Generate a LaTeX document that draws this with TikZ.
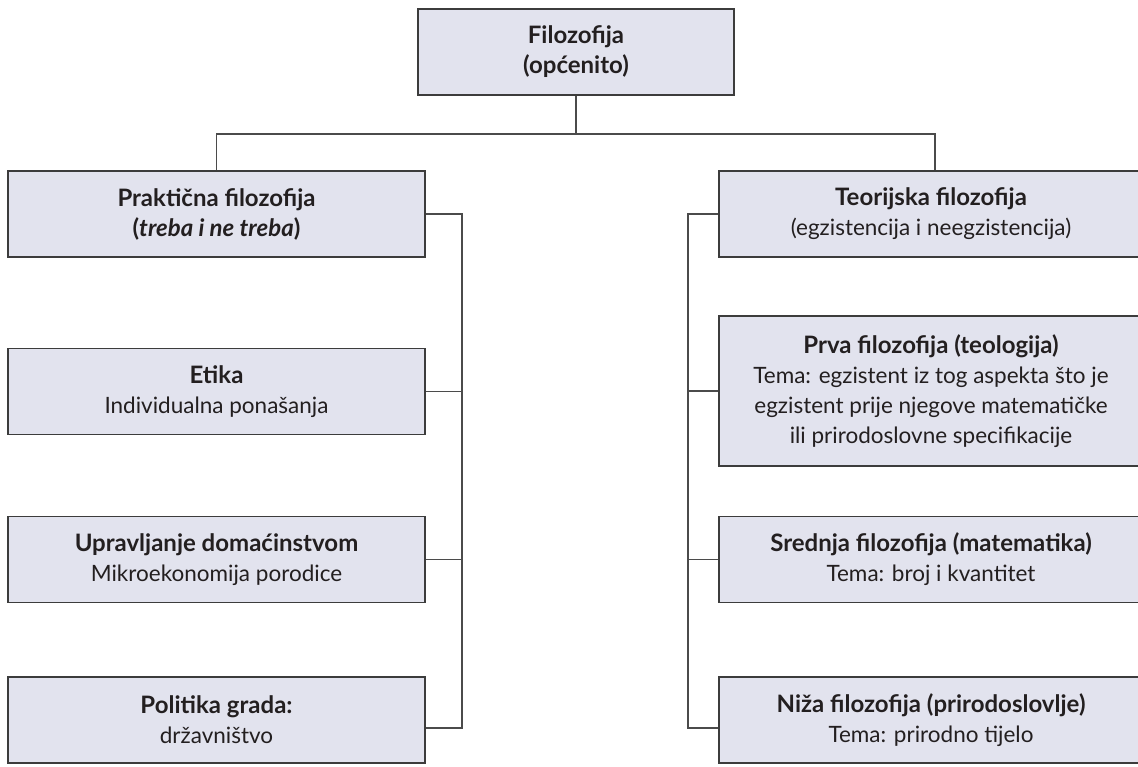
\documentclass[tikz,border=0pt]{standalone}
\usepackage{fontspec}
\setmainfont{Lato}
\definecolor{boxfill}{RGB}{226,227,238}
\definecolor{boxline}{RGB}{60,60,60}
\definecolor{linkline}{RGB}{75,75,75}
\definecolor{txt}{RGB}{35,31,32}
\newcommand{\hd}[1]{{\fontsize{24}{30}\selectfont\bfseries #1}}
\tikzset{
  catbox/.style={draw=boxline, line width=1.4pt, fill=boxfill, text=txt,
    minimum height=86pt, inner sep=0pt, align=center,
    font=\fontsize{22.5}{30}\selectfont},
  leftbox/.style={catbox, minimum width=417pt},
  rightbox/.style={catbox, minimum width=424pt},
  topbox/.style={catbox, minimum width=316pt},
  link/.style={draw=linkline, line width=1.3pt}
}
\begin{document}
\begin{tikzpicture}[x=1pt,y=-1pt]
\useasboundingbox (0,0) rectangle (1138,766);
\clip (0,0) rectangle (1138,766);
% top
\node[topbox] (top) at (576,52) {\hd{Filozofija}\\\hd{(općenito)}};
% left column
\node[leftbox] (prak) at (216.5,214) {\hd{Praktična filozofija}\\\hd{(\textit{treba i ne treba})}};
\node[leftbox] (etika) at (216.5,391.5) {\hd{Etika}\\Individualna ponašanja};
\node[leftbox] (uprav) at (216.5,559.5) {\hd{Upravljanje domaćinstvom}\\Mikroekonomija porodice};
\node[leftbox] (polit) at (216.5,720) {\hd{Politika grada:}\\državništvo};
% right column (boxes run past the right edge)
\node[rightbox] (teor) at (931,214) {\hd{Teorijska filozofija}\\(egzistencija i neegzistencija)};
\node[rightbox, minimum height=150pt] (prva) at (931,391) {\hd{Prva filozofija (teologija)}\\Tema: egzistent iz tog aspekta što je\\egzistent prije njegove matematičke\\ili prirodoslovne specifikacije};
\node[rightbox] (sred) at (931,559.5) {\hd{Srednja filozofija (matematika)}\\Tema: broj i kvantitet};
\node[rightbox] (niza) at (931,720) {\hd{Niža filozofija (prirodoslovlje)}\\Tema: prirodno tijelo};
% buses
\coordinate (split) at (576,134);
\coordinate (lbus) at (462,0);
\coordinate (rbus) at (688,0);
\coordinate (teortop) at ([xshift=4pt]teor.north);
\coordinate (polend) at ([yshift=-8pt]polit.east);
\coordinate (nizend) at ([yshift=-8pt]niza.west);
\draw[link] (top.south) -- (split) -| (prak.north);
\draw[link] (split) -| (teortop);
\draw[link] (prak.east) -| (lbus |- polend) -- (polend);
\draw[link] (etika.east) -- (etika.east -| lbus);
\draw[link] (uprav.east) -- (uprav.east -| lbus);
\draw[link] (teor.west) -| (rbus |- nizend) -- (nizend);
\draw[link] (prva.west) -- (prva.west -| rbus);
\draw[link] (sred.west) -- (sred.west -| rbus);
\end{tikzpicture}
\end{document}
